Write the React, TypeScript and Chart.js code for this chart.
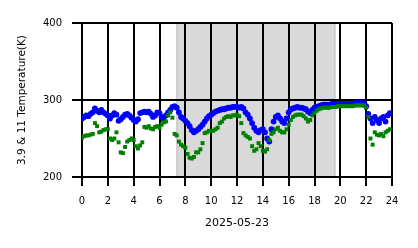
import React, { useEffect, useRef } from "react";
import { Chart, registerables } from "chart.js";

Chart.register(...registerables);

// Sample interval: 10 minutes, rows = hours 0..23 (6 samples per hour)
const SAMPLE_MINUTES = 10;

// 3.9 µm brightness temperature (K)
const band39: number[][] = [
  [276, 278, 280, 279, 282, 284],
  [289, 286, 284, 287, 284, 282],
  [280, 276, 280, 283, 281, 273],
  [275, 278, 281, 282, 280, 277],
  [274, 272, 275, 283, 284, 285],
  [284, 285, 282, 278, 280, 284],
  [283, 278, 274, 280, 284, 287],
  [291, 292, 290, 284, 278, 276],
  [273, 270, 266, 261, 258, 260],
  [262, 265, 268, 272, 276, 279],
  [281, 283, 285, 286, 287, 288],
  [288, 289, 290, 290, 291, 291],
  [291, 290, 291, 289, 284, 281],
  [276, 270, 264, 260, 258, 261],
  [262, 258, 250, 246, 262, 272],
  [278, 280, 276, 272, 270, 276],
  [284, 288, 289, 290, 291, 290],
  [290, 289, 288, 285, 283, 287],
  [290, 291, 292, 293, 294, 294],
  [294, 294, 295, 295, 295, 295],
  [295, 295, 295, 295, 295, 295],
  [295, 296, 296, 296, 296, 296],
  [292, 282, 276, 270, 278, 274],
  [270, 276, 278, 272, 280, 283],
];

// 11 µm brightness temperature (K)
const band11: number[][] = [
  [251, 253, 254, 254, 255, 256],
  [270, 266, 258, 259, 261, 262],
  [262, 250, 248, 250, 258, 245],
  [232, 231, 239, 246, 248, 250],
  [248, 240, 237, 241, 245, 265],
  [264, 266, 263, 262, 265, 266],
  [264, 268, 271, 272, 280, 284],
  [277, 256, 254, 246, 242, 240],
  [238, 230, 225, 224, 226, 232],
  [232, 236, 244, 257, 258, 260],
  [260, 260, 262, 264, 270, 272],
  [276, 278, 279, 278, 280, 280],
  [281, 279, 270, 257, 254, 252],
  [250, 240, 234, 236, 244, 240],
  [234, 233, 236, 248, 256, 258],
  [262, 264, 260, 258, 258, 262],
  [268, 274, 278, 280, 281, 281],
  [281, 279, 276, 272, 274, 280],
  [283, 286, 288, 289, 290, 290],
  [290, 290, 291, 291, 291, 292],
  [292, 292, 292, 292, 292, 292],
  [292, 293, 293, 293, 293, 293],
  [290, 278, 250, 242, 258, 255],
  [254, 256, 253, 258, 260, 262],
];

const X_TICKS = [0, 2, 4, 6, 8, 10, 12, 14, 16, 18, 20, 22, 24];
const Y_TICKS = [200, 300, 400];
const DATE_LABEL = "2025-05-23";
const Y_TITLE = "3.9 & 11 Temperature(K)";
const SHADE_START = 7.33; // hour
const SHADE_END = 19.6; // hour

function toPoints(rows: number[][]) {
  const pts: { x: number; y: number }[] = [];
  rows.forEach((row, h) =>
    row.forEach((v, k) => pts.push({ x: h + (k * SAMPLE_MINUTES) / 60, y: v }))
  );
  return pts;
}

const shadePlugin = {
  id: "shade",
  beforeDraw(chart: any) {
    const { ctx, chartArea, scales } = chart;
    const x0 = scales.x.getPixelForValue(SHADE_START);
    const x1 = scales.x.getPixelForValue(SHADE_END);
    ctx.save();
    ctx.fillStyle = "rgba(128,128,128,0.3)";
    ctx.fillRect(x0, chartArea.top, x1 - x0, chartArea.bottom - chartArea.top);
    ctx.strokeStyle = "rgba(128,128,128,0.3)";
    ctx.lineWidth = 1.5;
    ctx.strokeRect(x0, chartArea.top, x1 - x0, chartArea.bottom - chartArea.top);
    ctx.restore();
  },
};

export default function App() {
  const ref = useRef<HTMLCanvasElement | null>(null);
  useEffect(() => {
    if (!ref.current) return;
    const font = "'DejaVu Sans', sans-serif";
    const chart = new Chart(ref.current, {
      type: "scatter",
      data: {
        datasets: [
          {
            label: "11",
            data: toPoints(band11),
            pointStyle: "rect",
            pointRadius: 2.8,
            backgroundColor: "#008000",
            borderColor: "#008000",
            borderWidth: 0,
          },
          {
            label: "3.9",
            data: toPoints(band39),
            pointStyle: "circle",
            pointRadius: 2.9,
            backgroundColor: "#0000ff",
            borderColor: "#0000ff",
            borderWidth: 0,
          },
        ],
      },
      options: {
        responsive: false,
        animation: false,
        devicePixelRatio: 1,
        layout: { padding: { top: 23, right: 26, left: 0, bottom: 0 } },
        plugins: { legend: { display: false }, tooltip: { enabled: false } },
        scales: {
          x: {
            type: "linear",
            min: 0,
            max: 24,
            afterBuildTicks: (s: any) => {
              s.ticks = X_TICKS.map((v) => ({ value: v }));
            },
            afterFit: (s: any) => {
              s.height = 71;
            },
            ticks: {
              color: "#000",
              font: { family: font, size: 10 },
              padding: 9,
              maxRotation: 0,
              autoSkip: false,
            },
            grid: {
              color: "#000",
              lineWidth: 2,
              tickLength: 9,
              tickColor: "#000",
              tickWidth: 2,
            },
            border: { display: true, color: "#000", width: 2 },
            title: {
              display: true,
              text: DATE_LABEL,
              color: "#000",
              font: { family: font, size: 11 },
              padding: { top: 0, bottom: 18 },
            },
          },
          y: {
            type: "linear",
            min: 200,
            max: 400,
            afterBuildTicks: (s: any) => {
              s.ticks = Y_TICKS.map((v) => ({ value: v }));
            },
            afterFit: (s: any) => {
              s.width = 82;
            },
            ticks: {
              color: "#000",
              font: { family: font, size: 10 },
              padding: 10,
            },
            grid: {
              color: "#000",
              lineWidth: 2,
              tickLength: 10,
              tickColor: "#000",
              tickWidth: 2,
            },
            border: { display: true, color: "#000", width: 2 },
            title: {
              display: true,
              text: Y_TITLE,
              color: "#000",
              font: { family: font, size: 10.5 },
              padding: { top: 16, bottom: 0 },
            },
          },
        },
      },
      plugins: [shadePlugin],
    });
    return () => chart.destroy();
  }, []);
  return (
    <div style={{ position: "fixed", left: 0, top: 0, width: 418, height: 248, background: "#fff" }}>
      <canvas ref={ref} width={418} height={248} />
    </div>
  );
}
